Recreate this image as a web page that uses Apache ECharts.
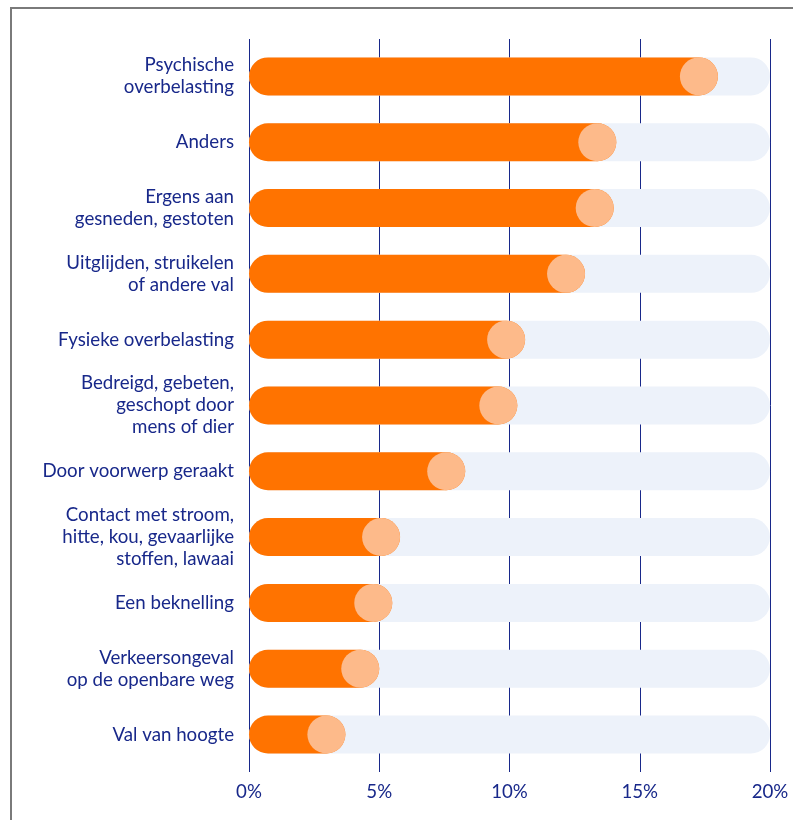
<!DOCTYPE html>
<html>
<head>
<meta charset="utf-8">
<title>Ongevallen</title>
<script src="https://cdn.jsdelivr.net/npm/echarts@6/dist/echarts.min.js"></script>
<style>
  html, body { margin: 0; padding: 0; background: #fff; }
  #main { width: 793px; height: 820px; }
</style>
</head>
<body>
<div id="main"></div>
<script>
// categorieen, van boven naar beneden
var categories = [
  'Psychische\noverbelasting',
  'Anders',
  'Ergens aan\ngesneden, gestoten',
  'Uitglijden, struikelen\nof andere val',
  'Fysieke overbelasting',
  'Bedreigd, gebeten,\ngeschopt door\nmens of dier',
  'Door voorwerp geraakt',
  'Contact met stroom,\nhitte, kou, gevaarlijke\nstoffen, lawaai',
  'Een beknelling',
  'Verkeersongeval\nop de openbare weg',
  'Val van hoogte'
];
// aandeel in procenten
var values = [18.0, 14.1, 14.0, 12.9, 10.6, 10.3, 8.3, 5.8, 5.5, 5.0, 3.7];
var axisMax = 20;
var tickStep = 5;

var navy = '#18288a';
var font = 'Lato';

var chart = echarts.init(document.getElementById('main'));

var option = {
  animation: false,
  graphic: [{
    type: 'polyline',
    shape: { points: [[11, 820], [11, 8], [793, 8]] },
    style: { stroke: '#7a7a7a', lineWidth: 2, fill: null }
  }],
  grid: [
    { left: 249, right: 23, top: 39, bottom: 48 },
    { left: 249, right: 23, top: 43.5, bottom: 52.6 }
  ],
  xAxis: [
    {
      gridIndex: 0, type: 'value', min: 0, max: axisMax, interval: tickStep,
      axisLine: { show: false }, axisTick: { show: false },
      splitLine: { show: true, lineStyle: { color: navy, width: 1 } },
      axisLabel: { formatter: '{value}%', color: navy, fontSize: 18.7, fontFamily: font, margin: 10 }
    },
    {
      gridIndex: 1, type: 'value', min: 0, max: axisMax, show: false
    }
  ],
  yAxis: [
    { gridIndex: 0, type: 'value', show: false },
    {
      gridIndex: 1, type: 'category', data: categories, inverse: true,
      axisLine: { show: false }, axisTick: { show: false },
      axisLabel: {
        color: navy, fontSize: 18.7, fontFamily: font, lineHeight: 22,
        margin: 15, align: 'right'
      }
    }
  ],
  series: [
    {
      type: 'bar', xAxisIndex: 1, yAxisIndex: 1, silent: true,
      data: categories.map(function () { return axisMax; }),
      barWidth: 38, barGap: '-100%',
      itemStyle: { color: '#edf2fa', borderRadius: 19 }
    },
    {
      type: 'bar', xAxisIndex: 1, yAxisIndex: 1, silent: true,
      data: values,
      barWidth: 38,
      itemStyle: { color: '#ff7300', borderRadius: 19 }
    },
    {
      type: 'scatter', xAxisIndex: 1, yAxisIndex: 1, silent: true,
      data: values.map(function (v, i) { return [v, i]; }),
      symbol: 'circle', symbolSize: 38, symbolOffset: [-19, 0],
      itemStyle: { color: '#fdba8a', opacity: 1 }
    }
  ]
};
chart.setOption(option);
</script>
</body>
</html>
